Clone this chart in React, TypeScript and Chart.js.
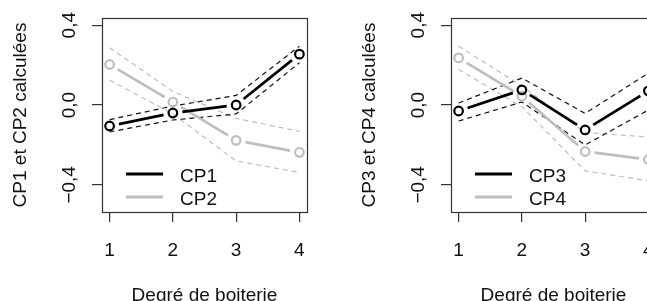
import React, { useEffect, useRef } from "react";
import { Chart, registerables } from "chart.js";

Chart.register(...registerables);

// ---------- data ----------
const degres = [1, 2, 3, 4];
const yTickValues = [-0.4, 0, 0.4];
const xTitle = "Degré de boiterie";

const cp1 = [-0.105, -0.04, 0.0, 0.255];
const cp1Haut = [-0.073, -0.005, 0.048, 0.295];
const cp1Bas = [-0.135, -0.075, -0.045, 0.212];
const cp2 = [0.203, 0.015, -0.177, -0.237];
const cp2Haut = [0.287, 0.068, -0.067, -0.132];
const cp2Bas = [0.125, -0.045, -0.28, -0.338];

const cp3 = [-0.03, 0.076, -0.125, 0.071];
const cp3Haut = [0.01, 0.135, -0.042, 0.16];
const cp3Bas = [-0.08, 0.015, -0.2, -0.025];
const cp4 = [0.236, 0.044, -0.233, -0.273];
const cp4Haut = [0.295, 0.095, -0.138, -0.16];
const cp4Bas = [0.178, -0.008, -0.33, -0.38];

// ---------- style ----------
const FONT = "'Liberation Sans', Arial, Helvetica, sans-serif";
const FS = 19;
const BLACK = "#000000";
const GRAY = "#bebebe";
const AXIS = "#333333";
const TEXT = "#111111";
const W = 349;
const H = 320;
const GAP = 9.5;

const fmt = (v: number) =>
  (Math.abs(v) < 1e-9 ? 0 : v).toFixed(1).replace(".", ",").replace("-", "\u2212");

const toXY = (arr: number[]) => degres.map((x, i) => ({ x, y: arr[i] }));

const gapDash = (ctx: any) => {
  const dx = ctx.p1.x - ctx.p0.x;
  const dy = ctx.p1.y - ctx.p0.y;
  const len = Math.hypot(dx, dy);
  const d = Math.max(len - 2 * GAP, 0);
  return [0, GAP, d, 10000];
};

const boxPlugin = {
  id: "rbox",
  afterDatasetsDraw(chart: any) {
    const { ctx, chartArea } = chart;
    ctx.save();
    ctx.strokeStyle = AXIS;
    ctx.lineWidth = 1.2;
    const l = Math.round(chartArea.left) + 0.5;
    const t = Math.round(chartArea.top) + 0.5;
    const r = Math.round(chartArea.right) + 0.5;
    const b = Math.round(chartArea.bottom) + 0.5;
    ctx.strokeRect(l, t, r - l, b - t);
    ctx.restore();
  },
};

const legendPlugin = {
  id: "rlegend",
  afterDraw(chart: any) {
    const { ctx, chartArea } = chart;
    const items = chart.data.datasets.filter((d: any) => d.inLegend);
    ctx.save();
    ctx.font = `${FS}px ${FONT}`;
    ctx.textBaseline = "middle";
    ctx.textAlign = "left";
    items.forEach((d: any, i: number) => {
      const yLine = chartArea.bottom - 38 + i * 23;
      ctx.strokeStyle = d.borderColor;
      ctx.lineWidth = 3;
      ctx.beginPath();
      ctx.moveTo(chartArea.left + 24, yLine);
      ctx.lineTo(chartArea.left + 61, yLine);
      ctx.stroke();
      ctx.fillStyle = TEXT;
      ctx.fillText(d.label, chartArea.left + 78, yLine + 2.5);
    });
    ctx.restore();
  },
};

function mainSet(label: string, arr: number[], color: string, order: number) {
  return {
    label,
    data: toXY(arr),
    borderColor: color,
    borderWidth: 2.7,
    pointRadius: 4.3,
    pointBorderWidth: 2.2,
    pointBorderColor: color,
    pointBackgroundColor: "rgba(0,0,0,0)",
    segment: { borderDash: gapDash },
    order,
    inLegend: true,
  };
}

function bandSet(label: string, arr: number[], color: string, width: number, order: number) {
  return {
    label,
    data: toXY(arr),
    borderColor: color,
    borderWidth: width,
    borderDash: [5, 4],
    pointRadius: 0,
    order,
  };
}

type PanelProps = {
  left: number;
  yTitle: string;
  names: string[];
  mains: number[][];
  hauts: number[][];
  bas: number[][];
};

function Panel({ left, yTitle, names, mains, hauts, bas }: PanelProps) {
  const ref = useRef<HTMLCanvasElement | null>(null);
  useEffect(() => {
    if (!ref.current) return;
    const tickFont = { family: FONT, size: FS };
    const chart = new Chart(ref.current, {
      type: "line",
      data: {
        datasets: [
          mainSet(names[0], mains[0], BLACK, 1),
          mainSet(names[1], mains[1], GRAY, 2),
          bandSet(names[0] + " haut", hauts[0], "#111111", 1.2, 3),
          bandSet(names[0] + " bas", bas[0], "#111111", 1.2, 3),
          bandSet(names[1] + " haut", hauts[1], GRAY, 1.2, 4),
          bandSet(names[1] + " bas", bas[1], GRAY, 1.2, 4),
        ] as any,
      },
      options: {
        responsive: false,
        animation: false,
        devicePixelRatio: 1,
        events: [],
        layout: { padding: { top: 18, right: 42, left: 0, bottom: 0 } },
        plugins: {
          legend: { display: false },
          tooltip: { enabled: false },
          title: { display: false },
        },
        scales: {
          x: {
            type: "linear",
            min: 0.88,
            max: 4.12,
            afterBuildTicks: (s: any) => {
              s.ticks = degres.map((v) => ({ value: v }));
            },
            afterFit: (s: any) => {
              s.height = H - 212;
            },
            ticks: {
              font: tickFont,
              color: TEXT,
              padding: 17,
              maxRotation: 0,
              minRotation: 0,
              autoSkip: false,
              callback: (v: any) => String(v),
            },
            grid: {
              display: true,
              drawOnChartArea: false,
              drawTicks: true,
              tickLength: 10,
              color: AXIS,
              lineWidth: 1.2,
            },
            border: { display: false },
            title: {
              display: true,
              text: xTitle,
              font: tickFont,
              color: TEXT,
              padding: { top: 0, bottom: 12.9 },
            },
          },
          y: {
            type: "linear",
            min: -0.536,
            max: 0.436,
            afterBuildTicks: (s: any) => {
              s.ticks = yTickValues.map((v) => ({ value: v }));
            },
            afterFit: (s: any) => {
              s.width = 102;
            },
            ticks: {
              font: tickFont,
              color: TEXT,
              padding: 3,
              minRotation: 90,
              maxRotation: 90,
              crossAlign: "center",
              autoSkip: false,
              callback: (v: any) => fmt(Number(v)),
            },
            grid: {
              display: true,
              drawOnChartArea: false,
              drawTicks: true,
              tickLength: 10,
              color: AXIS,
              lineWidth: 1.2,
            },
            border: { display: false },
            title: {
              display: true,
              text: yTitle,
              font: tickFont,
              color: TEXT,
              padding: { top: 9.6, bottom: 0 },
            },
          },
        },
      } as any,
      plugins: [boxPlugin, legendPlugin],
    });
    return () => chart.destroy();
  }, []);
  return (
    <div style={{ position: "absolute", left, top: 0, width: W, height: H }}>
      <canvas
        ref={ref}
        width={W}
        height={H}
        style={{ display: "block", width: W, height: H }}
      />
    </div>
  );
}

export default function App() {
  return (
    <div
      style={{
        position: "fixed",
        left: 0,
        top: 0,
        width: 647,
        height: 301,
        overflow: "hidden",
        background: "#ffffff",
      }}
    >
      <Panel
        left={0}
        yTitle="CP1 et CP2 calculées"
        names={["CP1", "CP2"]}
        mains={[cp1, cp2]}
        hauts={[cp1Haut, cp2Haut]}
        bas={[cp1Bas, cp2Bas]}
      />
      <Panel
        left={349}
        yTitle="CP3 et CP4 calculées"
        names={["CP3", "CP4"]}
        mains={[cp3, cp4]}
        hauts={[cp3Haut, cp4Haut]}
        bas={[cp3Bas, cp4Bas]}
      />
    </div>
  );
}
